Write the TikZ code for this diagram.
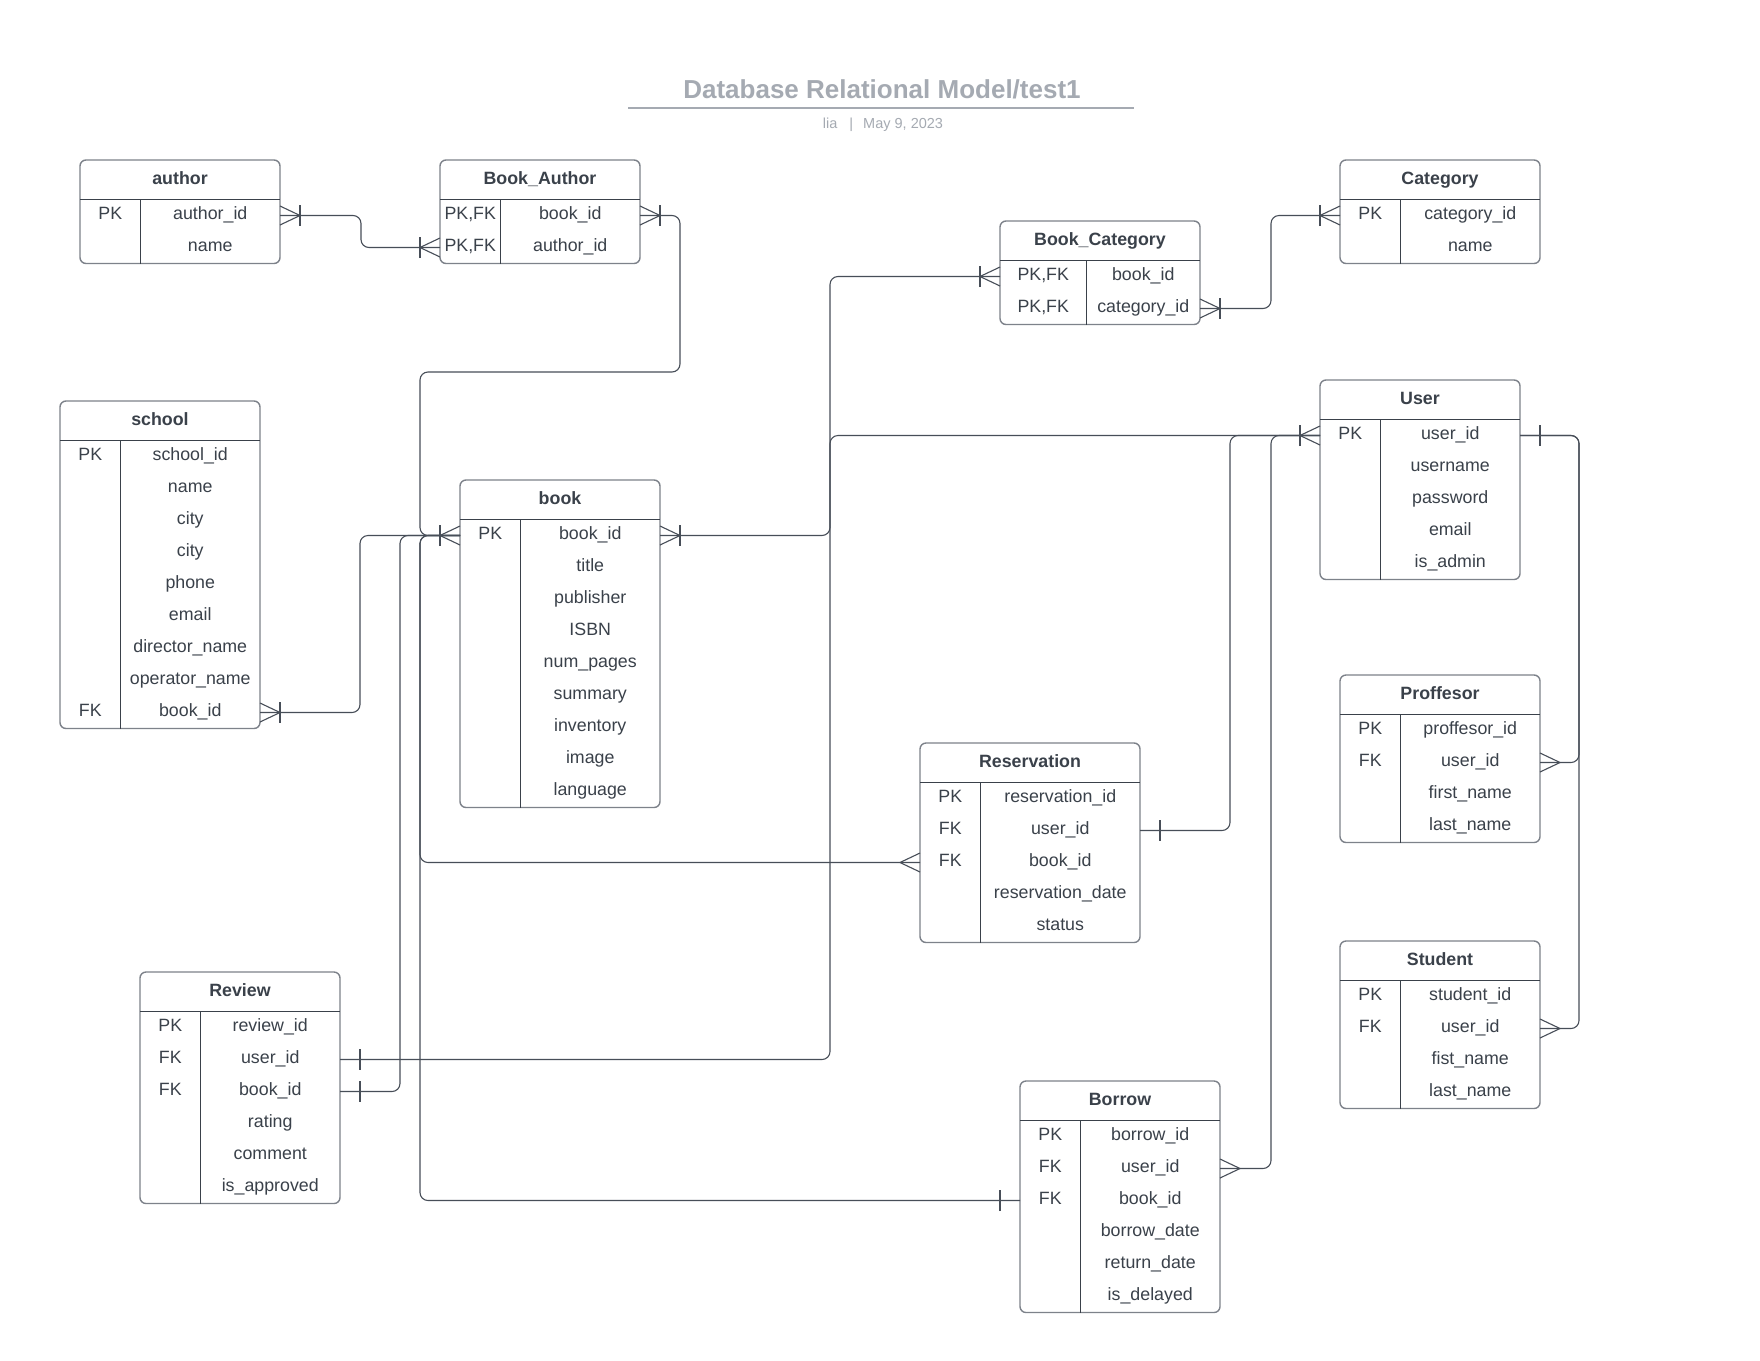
\documentclass[tikz,border=0pt]{standalone}
\usepackage{fontspec}
\setmainfont{Liberation Sans}
\definecolor{txt}{HTML}{3A414A}
\definecolor{bord}{HTML}{7D828A}
\definecolor{inl}{HTML}{3A414A}
\definecolor{cn}{HTML}{474E58}
\definecolor{ttl}{HTML}{A5AAB2}
\tikzset{
  ebox/.style={draw=bord, line width=1.4pt, rounded corners=6pt, fill=white, inner sep=0pt, outer sep=0pt},
  inl/.style={draw=inl, line width=1.1pt},
  btxt/.style={font=\fontsize{17.8}{20}\selectfont, text=txt, anchor=base, inner sep=0pt},
  htxt/.style={font=\bfseries\fontsize{17.8}{20}\selectfont, text=txt, anchor=base, inner sep=0pt},
  conn/.style={draw=cn, line width=1.1pt, rounded corners=8pt},
  tip/.style={draw=cn, line width=1.1pt},
  manyone/.pic={\draw[tip] (0,-9.5) -- (20,0) -- (0,9.5); \draw[tip] (20,-10.5) -- (20,10.5);},
  manyonly/.pic={\draw[tip] (0,-9.5) -- (20,0) -- (0,9.5);},
  oneonly/.pic={\draw[tip] (20,-10.5) -- (20,10.5);},
}
\newcommand\ent[8]{%
  \pgfmathsetmacro\enth{39.5+#6*32}%
  \node[ebox, anchor=north west, minimum width=#4pt, minimum height=\enth pt] (#1) at (#2,#3) {};
  \node[htxt] (#1-title) at ({#2+#4/2},{#3+24}) {#7};
  \draw[inl] (#2,{#3+39.5}) -- ++(#4,0);
  \draw[inl] ({#2+#5},{#3+39.5}) -- ++(0,{#6*32});
  \foreach \k/\f [count=\i] in {#8}{%
    \pgfmathsetmacro\yc{#3+39.5+(\i-0.5)*32}%
    \node[btxt] (#1-k\i) at ({#2+#5/2},{\yc+4}) {\k};
    \node[btxt] (#1-f\i) at ({#2+#5+(#4-#5)/2},{\yc+4}) {\f};
    \coordinate (#1-\i W) at (#2,\yc);
    \coordinate (#1-\i E) at ({#2+#4},\yc);
  }%
}
\begin{document}
\begin{tikzpicture}[x=1pt, y=-1pt]
\useasboundingbox[fill=white] (0,0) rectangle (1760,1360);

% title
\node[font=\bfseries\fontsize{26}{30}\selectfont, text=ttl, anchor=base, inner sep=0pt] (title) at (882,98.5) {Database Relational Model/test1};
\coordinate (ulA) at (628,108);
\coordinate (ulB) at (1134,108);
\draw[draw=ttl, line width=1.8pt] (ulA) -- (ulB);
\node[font=\fontsize{14.5}{16}\selectfont, text=ttl, anchor=base, inner sep=0pt] (subtitle) at (883,128) {lia\hspace{12pt}|\hspace{10pt}May 9, 2023};

% entities
\ent{author}{80}{160}{200}{60.5}{2}{author}{PK/author\_id, /name}
\ent{BA}{440}{160}{200}{60.5}{2}{Book\_Author}{{PK,FK}/book\_id, {PK,FK}/author\_id}
\ent{Cat}{1340}{160}{200}{60.5}{2}{Category}{PK/category\_id, /name}
\ent{BC}{1000}{221}{200}{86.5}{2}{Book\_Category}{{PK,FK}/book\_id, {PK,FK}/category\_id}
\ent{school}{60}{401}{200}{60.5}{9}{school}{PK/school\_id, /name, /city, /city, /phone, /email, /director\_name, /operator\_name, FK/book\_id}
\ent{book}{460}{480}{200}{60.5}{9}{book}{PK/book\_id, /title, /publisher, /ISBN, /num\_pages, /summary, /inventory, /image, /language}
\ent{User}{1320}{380}{200}{60.5}{5}{User}{PK/user\_id, /username, /password, /email, /is\_admin}
\ent{Prof}{1340}{675}{200}{60.5}{4}{Proffesor}{PK/proffesor\_id, FK/user\_id, /first\_name, /last\_name}
\ent{Res}{920}{743}{220}{60.5}{5}{Reservation}{PK/reservation\_id, FK/user\_id, FK/book\_id, /reservation\_date, /status}
\ent{Student}{1340}{941}{200}{60.5}{4}{Student}{PK/student\_id, FK/user\_id, /fist\_name, /last\_name}
\ent{Review}{140}{972}{200}{60.5}{6}{Review}{PK/review\_id, FK/user\_id, FK/book\_id, /rating, /comment, /is\_approved}
\ent{Borrow}{1020}{1081}{200}{60.5}{6}{Borrow}{PK/borrow\_id, FK/user\_id, FK/book\_id, /borrow\_date, /return\_date, /is\_delayed}

% connectors
\draw[conn] (author-1E) -- ++(81,0) |- (BA-2W);
\draw[conn] (BA-1E) -- ++(40,0) |- (420,372) |- (book-1W);
\draw[conn] (school-9E) -- ++(100,0) |- (book-1W);
\draw[conn] (Review-3E) -- ++(60,0) |- (book-1W);
\draw[conn] (Res-3W) -| (420,700) |- (book-1W);
\draw[conn] (Borrow-3W) -| (420,700) |- (book-1W);
\draw[conn] (book-1E) -- ++(170,0) |- (BC-1W);
\draw[conn] (BC-2E) -- ++(71,0) |- (Cat-1W);
\draw[conn] (Review-2E) -| (830,700) |- (User-1W);
\draw[conn] (Res-2E) -| (1230,700) |- (User-1W);
\draw[conn] (Borrow-2E) -| (1271,700) |- (User-1W);
\draw[conn] (User-1E) -- ++(59,0) |- (Prof-2E);
\draw[conn] (User-1E) -- ++(59,0) |- (Student-2E);

% end symbols
\pic at (author-1E) {manyone};
\pic[rotate=180] at (BA-2W) {manyone};
\pic at (BA-1E) {manyone};
\pic[rotate=180] at (book-1W) {manyone};
\pic at (book-1E) {manyone};
\pic[rotate=180] at (BC-1W) {manyone};
\pic at (BC-2E) {manyone};
\pic[rotate=180] at (Cat-1W) {manyone};
\pic at (school-9E) {manyone};
\pic at (Review-2E) {oneonly};
\pic at (Review-3E) {oneonly};
\pic at (Res-2E) {oneonly};
\pic[rotate=180] at (Res-3W) {manyonly};
\pic at (Borrow-2E) {manyonly};
\pic[rotate=180] at (Borrow-3W) {oneonly};
\pic[rotate=180] at (User-1W) {manyone};
\pic at (User-1E) {oneonly};
\pic at (Prof-2E) {manyonly};
\pic at (Student-2E) {manyonly};
\end{tikzpicture}
\end{document}
